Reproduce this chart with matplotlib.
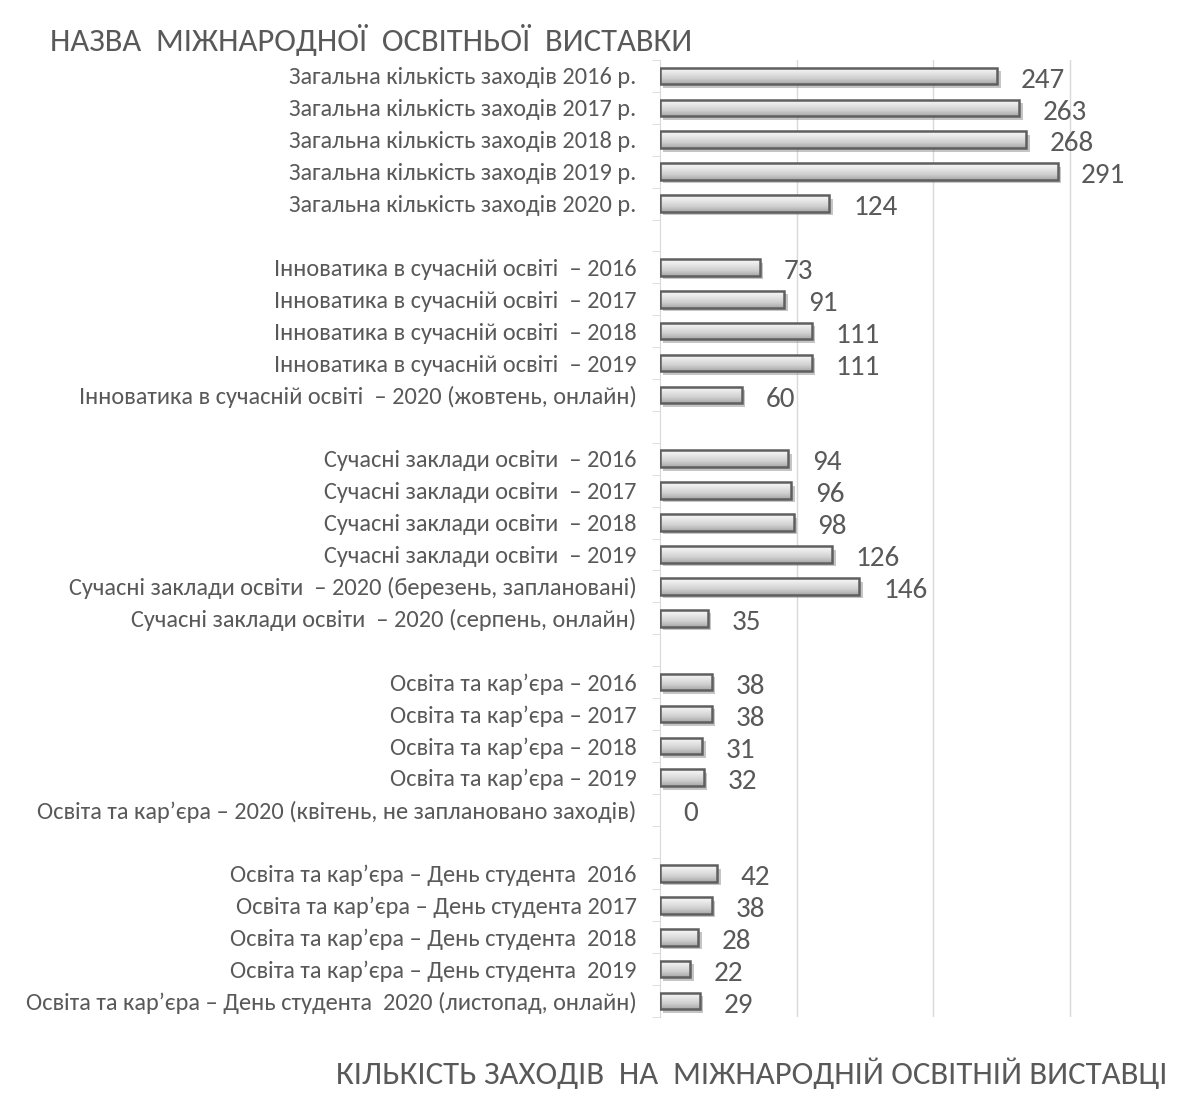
import matplotlib
matplotlib.use("Agg")
import matplotlib.pyplot as plt
import matplotlib.patheffects as pe
import matplotlib.font_manager as fm
import numpy as np

installed = {f.name for f in fm.fontManager.ttflist}
base_font = 'Carlito' if 'Carlito' in installed else 'PT Sans Narrow'
plt.rcParams['font.family'] = [base_font, 'DejaVu Sans']

# rows top to bottom; empty label = spacer row between exhibitions
labels = [
    "Загальна кількість заходів 2016 р.",
    "Загальна кількість заходів 2017 р.",
    "Загальна кількість заходів 2018 р.",
    "Загальна кількість заходів 2019 р.",
    "Загальна кількість заходів 2020 р.",
    "",
    "Інноватика в сучасній освіті  – 2016",
    "Інноватика в сучасній освіті  – 2017",
    "Інноватика в сучасній освіті  – 2018",
    "Інноватика в сучасній освіті  – 2019",
    "Інноватика в сучасній освіті  – 2020 (жовтень, онлайн)",
    "",
    "Сучасні заклади освіти  – 2016",
    "Сучасні заклади освіти  – 2017",
    "Сучасні заклади освіти  – 2018",
    "Сучасні заклади освіти  – 2019",
    "Сучасні заклади освіти  – 2020 (березень, заплановані)",
    "Сучасні заклади освіти  – 2020 (серпень, онлайн)",
    "",
    "Освіта та кар’єра – 2016",
    "Освіта та кар’єра – 2017",
    "Освіта та кар’єра – 2018",
    "Освіта та кар’єра – 2019",
    "Освіта та кар’єра – 2020 (квітень, не заплановано заходів)",
    "",
    "Освіта та кар’єра – День студента  2016",
    "Освіта та кар’єра – День студента 2017",
    "Освіта та кар’єра – День студента  2018",
    "Освіта та кар’єра – День студента  2019",
    "Освіта та кар’єра – День студента  2020 (листопад, онлайн)",
]
values = [
    247, 263, 268, 291, 124,
    None,
    73, 91, 111, 111, 60,
    None,
    94, 96, 98, 126, 146, 35,
    None,
    38, 38, 31, 32, 0,
    None,
    42, 38, 28, 22, 29,
]
gridlines = [100, 200, 300]

title = "НАЗВА  МІЖНАРОДНОЇ  ОСВІТНЬОЇ  ВИСТАВКИ"
xlabel = "КІЛЬКІСТЬ ЗАХОДІВ  НА  МІЖНАРОДНІЙ ОСВІТНІЙ ВИСТАВЦІ"

text_color = '#595959'
W, H = 1186, 1097
fig = plt.figure(figsize=(W / 100, H / 100), dpi=100)
ax = fig.add_axes([660 / W, 1 - 1017 / H, 1 - 660 / W, (1017 - 60) / H])

y = np.arange(len(labels))
vals = np.array([np.nan if v is None else v for v in values], dtype=float)
has_val = ~np.isnan(vals)
bar_h = 0.52

# shadowed base bars (spacer rows are skipped)
bars = ax.barh(y[has_val], vals[has_val], height=bar_h, color='#d0d0d0',
               edgecolor='none', zorder=2,
               path_effects=[pe.SimplePatchShadow(offset=(2.5, -2.5),
                                                  shadow_rgbFace='#7f7f7f',
                                                  alpha=0.45),
                             pe.Normal()])

# vertical gradient inside each bar
grad = np.linspace(0, 1, 64).reshape(-1, 1)
cmap = matplotlib.colors.LinearSegmentedColormap.from_list(
    'g', ['#fafafa', '#e6e6e6', '#cfcfcf', '#a8a8a8'])
for yi, v, b in zip(y[has_val], vals[has_val], bars):
    if v <= 0:
        b.set_visible(False)
        continue
    im = ax.imshow(grad, cmap=cmap, aspect='auto', origin='lower',
                   extent=(0, v, yi - bar_h / 2, yi + bar_h / 2), zorder=2.5)
    im.set_clip_path(b)

pos = has_val & (np.nan_to_num(vals) > 0)
ax.barh(y[pos], vals[pos], height=bar_h, fill=False,
        edgecolor='#5f5f5f', linewidth=1.8, zorder=3)

for yi, v in zip(y[has_val], vals[has_val]):
    ax.annotate(f"{int(v)}", xy=(v, yi), xytext=(17, -3),
                textcoords='offset points', va='center', ha='left',
                fontsize=21, color=text_color)

ax.set_xlim(0, 385)
ax.set_ylim(len(labels) - 0.5, -0.5)

ax.set_xticks(gridlines)
ax.set_xticklabels([])
ax.tick_params(axis='x', length=0)
ax.grid(axis='x', color='#d9d9d9', linewidth=1)
ax.set_axisbelow(True)

ax.set_yticks(y)
ax.set_yticklabels(labels, fontsize=17.6, color=text_color)
ax.set_yticks(np.arange(len(labels) + 1) - 0.5, minor=True)
ax.tick_params(axis='y', which='major', length=0, pad=17)
ax.tick_params(axis='y', which='minor', length=6, color='#d9d9d9')

for s in ['top', 'right', 'bottom']:
    ax.spines[s].set_visible(False)
ax.spines['left'].set_color('#d9d9d9')

fig.text(50 / W, 1 - 40 / H, title, fontsize=23.5, color=text_color,
         ha='left', va='center')
fig.text(336 / W, 1 - 1073 / H, xlabel, fontsize=23.6, color=text_color,
         ha='left', va='center')

fig.savefig("out.png", dpi=100, facecolor='white')
